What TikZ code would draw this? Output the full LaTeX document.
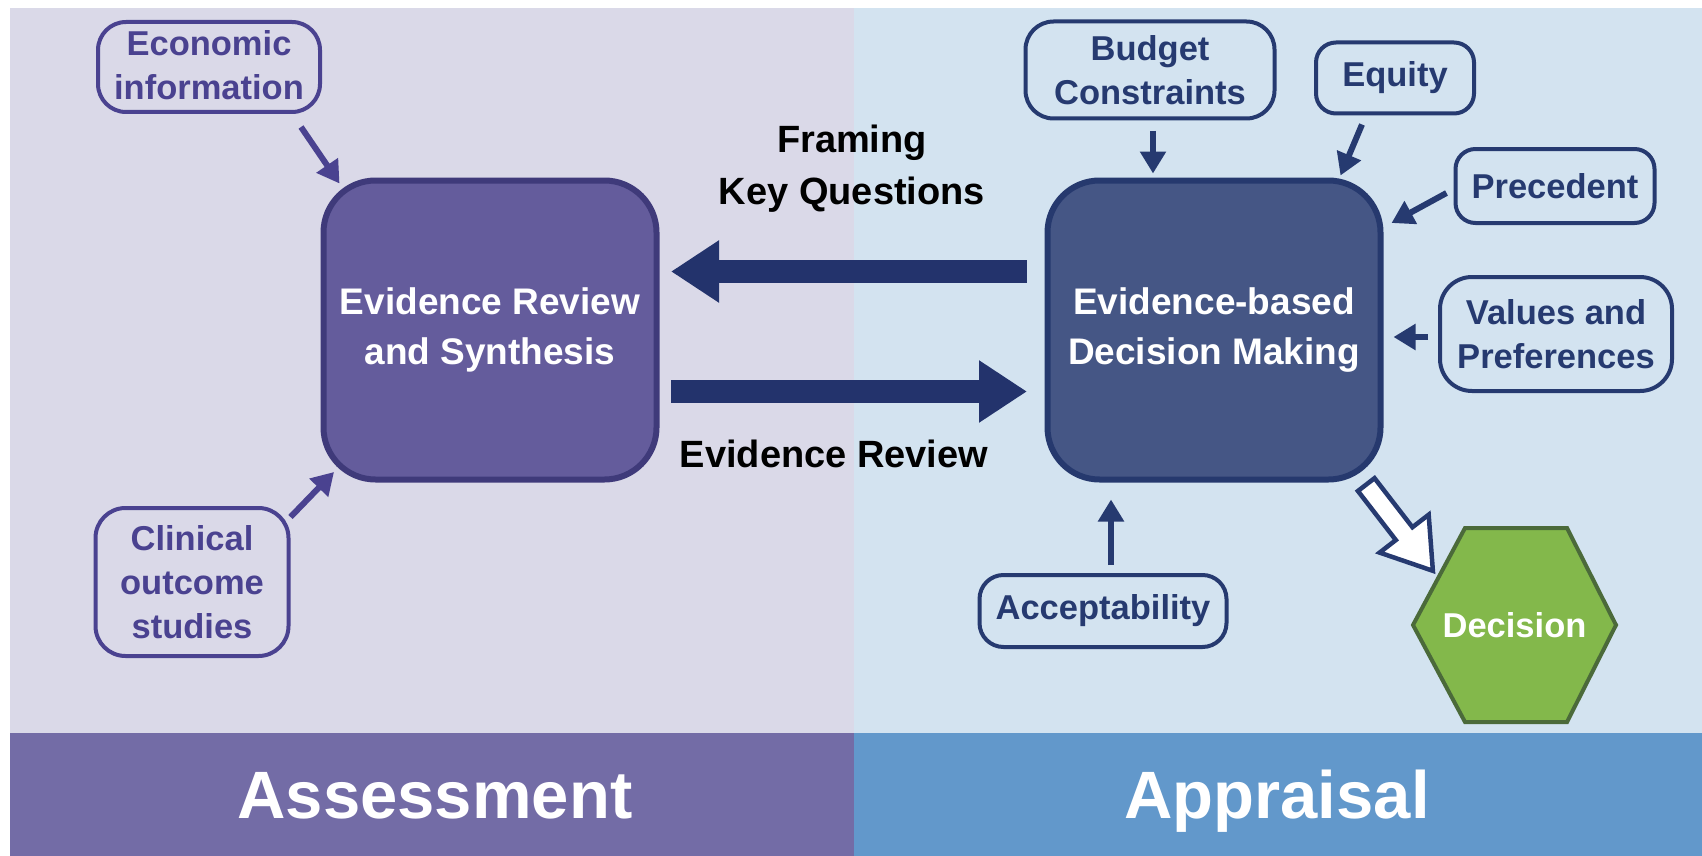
\documentclass[tikz,border=0pt]{standalone}
\usepackage{fontspec}
\setmainfont{Liberation Sans}
\usetikzlibrary{arrows.meta,calc}
\definecolor{bgL}{HTML}{DAD9E8}
\definecolor{bgR}{HTML}{D3E3F0}
\definecolor{bandL}{HTML}{736CA6}
\definecolor{bandR}{HTML}{6298CB}
\definecolor{ersFill}{HTML}{645C9C}
\definecolor{ersLine}{HTML}{3F3A7A}
\definecolor{edmFill}{HTML}{455685}
\definecolor{edmLine}{HTML}{26396E}
\definecolor{purp}{HTML}{4A4290}
\definecolor{navy}{HTML}{263A70}
\definecolor{bigarr}{HTML}{23336C}
\definecolor{decFill}{HTML}{83B84B}
\definecolor{decLine}{HTML}{4B6A3A}
\newcommand\fsmall{\fontsize{17.25pt}{22pt}\selectfont\bfseries}
\newcommand\fbig{\fontsize{18.5pt}{25pt}\selectfont\bfseries}
\newcommand\flabel{\fontsize{19pt}{26pt}\selectfont\bfseries}
\newcommand\fband{\fontsize{33.5pt}{40pt}\selectfont\bfseries}
\begin{document}
\begin{tikzpicture}[x=0.5pt,y=-0.5pt,
  smallbox/.style={line width=2pt, rounded corners=14pt, font=\fsmall, align=center, inner sep=0pt},
  smallL/.style={smallbox, draw=purp, text=purp},
  smallR/.style={smallbox, draw=navy, text=navy},
  bigbox/.style={minimum width=166.5pt, minimum height=149.5pt, rounded corners=26pt, line width=3pt, text=white, font=\fbig, align=center, inner sep=0pt},
  sarrow/.style={line width=3pt, -{Triangle[length=11pt,width=12.5pt]}},
  barrow/.style={draw=bigarr, line width=11.5pt, -{Triangle[length=24pt,width=29.5pt]}},
  lab/.style={font=\flabel, text=black, inner sep=0pt},
  band/.style={font=\fband, text=white, inner sep=0pt}
]
\useasboundingbox (0,0) rectangle (1702,856);
% backgrounds
\fill[bgL] (10,8) rectangle (854,733);
\fill[bgR] (854,8) rectangle (1702,733);
\fill[bandL] (10,733) rectangle (854,856);
\fill[bandR] (854,733) rectangle (1702,856);
\node[band, anchor=base] (assess) at (435,818) {Assessment};
\node[band, anchor=base] (apprais) at (1277,818) {Appraisal};

% main boxes
\node[bigbox, fill=ersFill, draw=ersLine] (ers) at (490,330) {Evidence Review\\and Synthesis};
\node[bigbox, fill=edmFill, draw=edmLine] (edm) at (1214,330) {Evidence-based\\Decision Making};

% small boxes
\node[smallL, minimum width=111pt, minimum height=45pt, text depth=2pt] (econ) at (209,67) {Economic\\information};
\node[smallL, minimum width=96.5pt, minimum height=74pt, rounded corners=15pt] (clin) at (192,582) {Clinical\\outcome\\studies};
\node[smallR, minimum width=124.5pt, minimum height=48.5pt] (budget) at (1150,70) {Budget\\Constraints};
\node[smallR, minimum width=79pt, minimum height=35.5pt, rounded corners=10pt] (equity) at (1395,78) {Equity};
\node[smallR, minimum width=99.5pt, minimum height=37pt, rounded corners=10pt] (prec) at (1555,186) {Precedent};
\node[smallR, minimum width=116pt, minimum height=57pt, rounded corners=16pt] (values) at (1556,334) {Values and\\Preferences};
\node[smallR, minimum width=123.5pt, minimum height=36pt, rounded corners=12pt] (accept) at (1103,611) {Acceptability};

% decision hexagon
\coordinate (dc) at (1514.5,625);
\draw[draw=decLine, fill=decFill, line width=2pt]
  ($(dc)+(-101.5,0)$) -- ($(dc)+(-49.5,-97)$) -- ($(dc)+(52.5,-97)$) -- ($(dc)+(101.5,0)$)
  -- ($(dc)+(52.5,97)$) -- ($(dc)+(-49.5,97)$) -- cycle;
\node[font=\fsmall, text=white, inner sep=0pt] (dec) at (dc) {Decision};

% big arrows
\draw[barrow] ($(edm.west)+(-18,-58.5)$) -- ($(ers.east)+(11.5,-58.5)$);
\draw[barrow] ($(ers.east)+(11.5,61.5)$) -- ($(edm.west)+(-17.5,61.5)$);
\node[lab, align=center] (frame) at (852,169) {Framing\\Key Questions};
\node[lab, anchor=base] (evrev) at (834,467) {Evidence Review};

% small arrows
\draw[sarrow, purp] ($(econ.south east)+(-21,13)$) -- ($(ers.north west)+(19,6)$);
\draw[sarrow, purp] ($(clin.north east)+(0,11)$) -- ($(ers.south west)+(13.5,-10.5)$);
\draw[sarrow, navy] ($(budget.south)+(3,10.5)$) -- ($(edm.north)+(-61,-4)$);
\draw[sarrow, navy] ($(equity.south)+(-33,9)$) -- ($(edm.north east)+(-43,-2)$);
\draw[sarrow, navy] ($(prec.west)+(-7,7)$) -- ($(edm.east)+(8,-107)$);
\draw[sarrow, navy] ($(values.west)+(-10,3)$) -- ($(edm.east)+(10,7)$);
\draw[sarrow, navy] ($(accept.north)+(8,-8)$) -- ($(edm.south)+(-103,17)$);

% hollow arrow to decision
\coordinate (hs) at ($(edm.south east)+(-18.5,0.5)$);
\begin{scope}[shift={(hs)}, rotate=-52.3]
\draw[navy, fill=white, line width=2.25pt]
  (2,-10.5) -- (64,-10.5) -- (64,-31) -- (111,0) -- (64,31) -- (64,10.5) -- (2,10.5) -- cycle;
\end{scope}
\end{tikzpicture}
\end{document}
